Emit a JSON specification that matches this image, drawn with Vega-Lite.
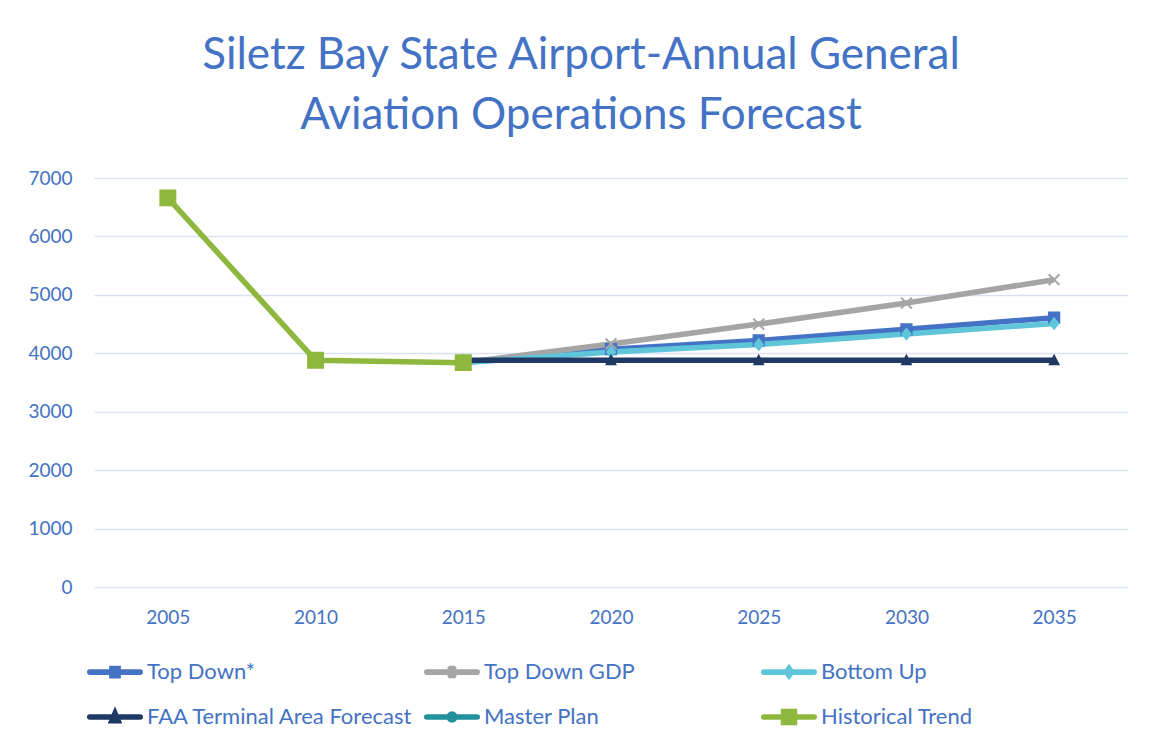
{
  "$schema": "https://vega.github.io/schema/vega-lite/v6.json",
  "width": 1034,
  "height": 409,
  "autosize": {"type": "none"},
  "padding": {"left": 94, "top": 178, "right": 25, "bottom": 158},
  "background": "white",
  "config": {"font": "Lato", "view": {"stroke": null}},
  "title": {
    "text": ["Siletz Bay State Airport-Annual General", "Aviation Operations Forecast"],
    "font": "Lato",
    "fontSize": 44,
    "fontWeight": "normal",
    "lineHeight": 60,
    "color": "#4472C4",
    "anchor": "middle",
    "dx": -30,
    "offset": 31
  },
  "data": {
    "values": [
      {"series": "Top Down*", "year": "2015", "ops": 3840},
      {"series": "Top Down*", "year": "2020", "ops": 4070},
      {"series": "Top Down*", "year": "2025", "ops": 4220},
      {"series": "Top Down*", "year": "2030", "ops": 4410},
      {"series": "Top Down*", "year": "2035", "ops": 4610},
      {"series": "Top Down GDP", "year": "2015", "ops": 3840},
      {"series": "Top Down GDP", "year": "2020", "ops": 4160},
      {"series": "Top Down GDP", "year": "2025", "ops": 4500},
      {"series": "Top Down GDP", "year": "2030", "ops": 4860},
      {"series": "Top Down GDP", "year": "2035", "ops": 5260},
      {"series": "Bottom Up", "year": "2015", "ops": 3840},
      {"series": "Bottom Up", "year": "2020", "ops": 4020},
      {"series": "Bottom Up", "year": "2025", "ops": 4150},
      {"series": "Bottom Up", "year": "2030", "ops": 4330},
      {"series": "Bottom Up", "year": "2035", "ops": 4510},
      {"series": "FAA Terminal Area Forecast", "year": "2015", "ops": 3880},
      {"series": "FAA Terminal Area Forecast", "year": "2020", "ops": 3880},
      {"series": "FAA Terminal Area Forecast", "year": "2025", "ops": 3880},
      {"series": "FAA Terminal Area Forecast", "year": "2030", "ops": 3880},
      {"series": "FAA Terminal Area Forecast", "year": "2035", "ops": 3880},
      {"series": "Master Plan", "year": "2015", "ops": 3840},
      {"series": "Historical Trend", "year": "2005", "ops": 6660},
      {"series": "Historical Trend", "year": "2010", "ops": 3880},
      {"series": "Historical Trend", "year": "2015", "ops": 3840}
    ]
  },
  "encoding": {
    "x": {
      "field": "year",
      "type": "ordinal",
      "sort": ["2005", "2010", "2015", "2020", "2025", "2030", "2035"],
      "scale": {"type": "point", "padding": 0.5, "domain": ["2005", "2010", "2015", "2020", "2025", "2030", "2035"]},
      "axis": {
        "title": null,
        "domain": false,
        "ticks": false,
        "grid": false,
        "labelAngle": 0,
        "labelFont": "Lato",
        "labelFontSize": 19,
        "labelColor": "#4472C4",
        "labelPadding": 21
      }
    },
    "y": {
      "field": "ops",
      "type": "quantitative",
      "scale": {"domain": [0, 7000], "nice": false},
      "axis": {
        "title": null,
        "domain": false,
        "ticks": false,
        "grid": true,
        "gridColor": "#D9E2F3",
        "gridWidth": 1.5,
        "values": [0, 1000, 2000, 3000, 4000, 5000, 6000, 7000],
        "format": "d",
        "labelFont": "Lato",
        "labelFontSize": 19,
        "labelColor": "#4472C4",
        "labelPadding": 22
      }
    }
  },
  "resolve": {"legend": {"color": "independent"}},
  "layer": [
    {
      "mark": {"type": "line", "strokeWidth": 5.5, "strokeJoin": "round"},
      "encoding": {
        "color": {
          "field": "series",
          "type": "nominal",
          "scale": {
            "domain": ["Top Down*", "Top Down GDP", "Bottom Up", "FAA Terminal Area Forecast", "Master Plan", "Historical Trend"],
            "range": ["#4472C4", "#A5A5A5", "#5FC6DA", "#1F3864", "#23919C", "#8DB73D"]
          },
          "legend": null
        }
      }
    },
    {
      "mark": {"type": "point", "filled": true, "strokeWidth": 0, "opacity": 1, "size": 1296},
      "encoding": {
        "color": {
          "field": "series",
          "type": "nominal",
          "scale": {
            "domain": ["Top Down*", "Top Down GDP", "Bottom Up", "FAA Terminal Area Forecast", "Master Plan", "Historical Trend"],
            "range": ["#4472C4", "#A5A5A5", "#5FC6DA", "#1F3864", "#23919C", "#8DB73D"]
          },
          "legend": {
            "title": null,
            "orient": "none",
            "legendX": 0,
            "legendY": 472,
            "direction": "horizontal",
            "columns": 3,
            "gridAlign": "all",
            "columnPadding": 1,
            "rowPadding": 8,
            "padding": 0,
            "symbolSize": 1296,
            "symbolOpacity": 1,
            "labelFont": "Lato",
            "labelFontSize": 22,
            "labelColor": "#4472C4",
            "labelOffset": 11,
            "labelLimit": 400,
            "encode": {
              "symbols": {
                "update": {
                  "shape": {"signal": "datum.value === 'Top Down*' ? 'M-1.4,0H1.4M-0.17,-0.2H0.17V0.2H-0.17Z' : datum.value === 'Top Down GDP' ? 'M-1.4,0H1.4M-0.09,-0.2L0.09,0.2M-0.09,0.2L0.09,-0.2' : datum.value === 'Bottom Up' ? 'M-1.4,0H1.4M0,-0.2L0.15,0L0,0.2L-0.15,0Z' : datum.value === 'FAA Terminal Area Forecast' ? 'M-1.4,0H1.4M0,-0.2L0.17,0.2L-0.17,0.2Z' : datum.value === 'Master Plan' ? 'M-1.4,0H1.4M-0.16,0A0.16,0.16,0,1,0,0.16,0A0.16,0.16,0,1,0,-0.16,0Z' : 'M-1.4,0H1.4M-0.3,-0.3H0.3V0.3H-0.3Z'"},
                  "fill": {"scale": "color", "field": "value"},
                  "stroke": {"scale": "color", "field": "value"},
                  "strokeWidth": {"value": 5.6},
                  "strokeCap": {"value": "round"}
                }
              }
            }
          }
        },
        "shape": {
          "field": "series",
          "type": "nominal",
          "scale": {
            "domain": ["Top Down*", "Top Down GDP", "Bottom Up", "FAA Terminal Area Forecast", "Master Plan", "Historical Trend"],
            "range": [
              "M-1.55,0H1.55M-0.34,-0.34H0.34V0.34H-0.34Z",
              "M-1.55,0H1.55M0,-0.08L0.26,-0.34L0.34,-0.26L0.08,0L0.34,0.26L0.26,0.34L0,0.08L-0.26,0.34L-0.34,0.26L-0.08,0L-0.34,-0.26L-0.26,-0.34Z",
              "M-1.55,0H1.55M0,-0.38L0.3,0L0,0.38L-0.3,0Z",
              "M-1.55,0H1.55M0,-0.36L0.33,0.28L-0.33,0.28Z",
              "M-1.55,0H1.55M-0.3,0A0.3,0.3,0,1,0,0.3,0A0.3,0.3,0,1,0,-0.3,0Z",
              "M-1.55,0H1.55M-0.47,-0.47H0.47V0.47H-0.47Z"
            ]
          },
          "legend": null
        }
      }
    }
  ]
}
